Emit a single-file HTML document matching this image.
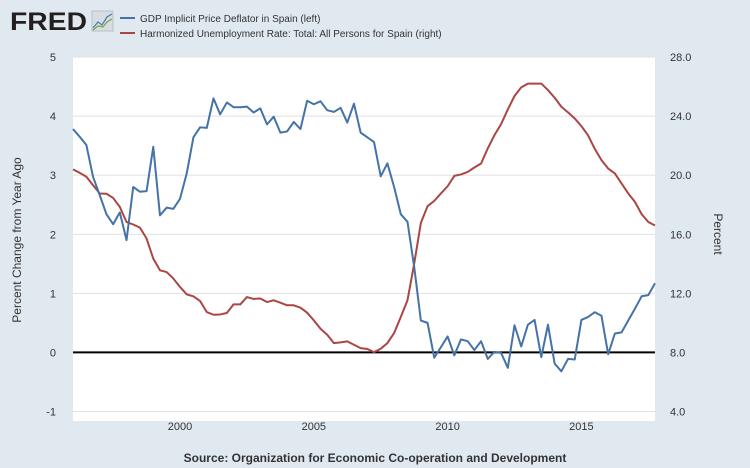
<!DOCTYPE html>
<html><head><meta charset="utf-8"><style>
body{margin:0;background:#e1e9f0;font-family:"Liberation Sans",sans-serif;}
svg{display:block}
</style></head><body>
<svg id="chart" width="750" height="468" xmlns="http://www.w3.org/2000/svg">
<rect width="750" height="468" fill="#e1e9f0"/>
<text x="10" y="30" font-size="25" font-weight="bold" fill="#231f20" textLength="77" lengthAdjust="spacingAndGlyphs" font-family="Liberation Sans, sans-serif">FRED</text>
<g>
<rect x="92" y="11" width="21" height="20" fill="#d7dde3" stroke="#b9c1c8"/>
<polyline points="93,28 98,22 102,25 107,17 112,14" fill="none" stroke="#4a7bb0" stroke-width="1.2"/>
<polyline points="93,30 98,26 103,27 107,22 112,19" fill="none" stroke="#7aa43c" stroke-width="1.2"/>
</g>
<g>
<line x1="120" y1="18" x2="135" y2="18" stroke="#4572a7" stroke-width="2"/>
<text x="140" y="22" font-size="10" fill="#333">GDP Implicit Price Deflator in Spain (left)</text>
<line x1="120" y1="33" x2="135" y2="33" stroke="#aa4643" stroke-width="2"/>
<text x="140" y="37" font-size="10" fill="#333">Harmonized Unemployment Rate: Total: All Persons for Spain (right)</text>
</g>
<rect x="73" y="57" width="582" height="364" fill="#fff"/>
<g id="grid"></g>
<g id="axes"></g>
<g id="series"></g>
<text x="21" y="240" font-size="12" fill="#333" text-anchor="middle" transform="rotate(-90 21 240)">Percent Change from Year Ago</text>
<text x="714" y="234" font-size="12" fill="#333" text-anchor="middle" transform="rotate(90 714 234)">Percent</text>
<text x="375" y="462" font-size="12" font-weight="bold" fill="#333" text-anchor="middle">Source: Organization for Economic Co-operation and Development</text>
</svg>
<script>
const gdp=[3.78,3.65,3.51,2.97,2.66,2.34,2.17,2.37,1.90,2.80,2.72,2.73,3.48,2.32,2.45,2.43,2.60,3.03,3.64,3.81,3.80,4.30,4.03,4.23,4.15,4.15,4.16,4.06,4.13,3.86,3.99,3.72,3.74,3.90,3.78,4.26,4.20,4.25,4.10,4.07,4.14,3.89,4.21,3.72,3.64,3.56,2.98,3.20,2.80,2.34,2.21,1.45,0.54,0.50,-0.09,0.09,0.27,-0.05,0.22,0.19,0.04,0.19,-0.11,0.01,-0.01,-0.26,0.46,0.10,0.47,0.55,-0.08,0.47,-0.19,-0.32,-0.11,-0.12,0.55,0.60,0.68,0.62,-0.03,0.32,0.34,0.54,0.74,0.95,0.97,1.17];
const unemp=[20.39,20.16,19.89,19.32,18.76,18.74,18.46,17.85,16.83,16.66,16.45,15.71,14.35,13.56,13.44,13.0,12.43,11.93,11.8,11.48,10.73,10.55,10.57,10.67,11.25,11.25,11.75,11.62,11.65,11.41,11.53,11.37,11.19,11.19,11.03,10.69,10.17,9.6,9.2,8.63,8.68,8.75,8.52,8.29,8.23,8.02,8.25,8.63,9.31,10.4,11.53,14.0,16.77,17.9,18.26,18.76,19.25,19.95,20.05,20.22,20.52,20.79,21.81,22.71,23.46,24.45,25.36,25.94,26.2,26.2,26.2,25.76,25.24,24.63,24.25,23.84,23.32,22.69,21.78,21.02,20.45,20.12,19.44,18.76,18.19,17.36,16.83,16.59];
const startYear=1996;
const leftTicks=[-1,0,1,2,3,4,5];
const rightTicks=["4.0","8.0","12.0","16.0","20.0","24.0","28.0"];
const yearTicks=[2000,2005,2010,2015];
const NS="http://www.w3.org/2000/svg";
const X0=73,X1=655,YT=57,YB=411.5;
const xq=i=>X0+i*(X1-X0)/(gdp.length-1);
const xYear=y=>xq((y-startYear)*4);
const yL=v=>YB-(v+1)*(YB-YT)/6;
const yR=v=>YB-(v-4)*(YB-YT)/24;
function mk(tag,attrs,parent){const e=document.createElementNS(NS,tag);for(const k in attrs)e.setAttribute(k,attrs[k]);parent.appendChild(e);return e;}
const grid=document.getElementById('grid'),axes=document.getElementById('axes'),ser=document.getElementById('series');
leftTicks.forEach(t=>{
 if(t!==0){const g=mk('line',{x1:X0,x2:X1,y1:yL(t),y2:yL(t),stroke:'#e1e1e1','stroke-width':1},grid);
 
 }
 const tx=mk('text',{x:56,y:yL(t)+4,'font-size':11,fill:'#333','text-anchor':'end'},axes);
 tx.textContent=t;
 
 
});
rightTicks.forEach(t=>{
 const tx=mk('text',{x:670,y:yR(parseFloat(t))+4,'font-size':11,fill:'#333'},axes);
 tx.textContent=t;
 
 
});
yearTicks.forEach(y=>{
 const tx=mk('text',{x:xYear(y),y:430,'font-size':11,fill:'#333','text-anchor':'middle'},axes);
 tx.textContent=y;
 
 
});
const zl=mk('line',{x1:X0,x2:X1,y1:yL(0),y2:yL(0),stroke:'#000','stroke-width':2},axes);


const pu=mk('polyline',{points:unemp.map((v,i)=>xq(i)+','+yR(v)).join(' '),fill:'none',stroke:'#aa4643','stroke-width':2,'stroke-linejoin':'round'},ser);


const pg=mk('polyline',{points:gdp.map((v,i)=>xq(i)+','+yL(v)).join(' '),fill:'none',stroke:'#4572a7','stroke-width':2,'stroke-linejoin':'round'},ser);


</script>
</body></html>
